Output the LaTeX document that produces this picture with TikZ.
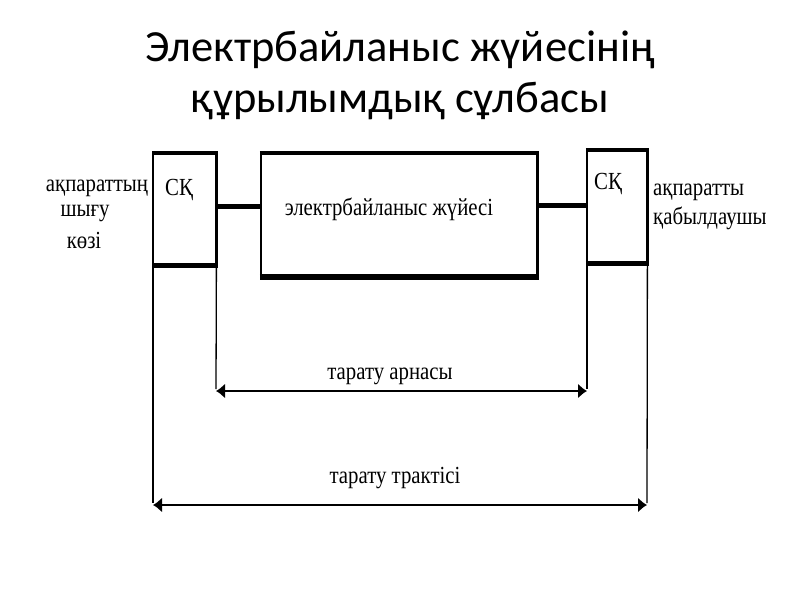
\documentclass[tikz,border=0pt]{standalone}
\usepackage{fontspec}
\usepackage{graphicx}
\setmainfont{Liberation Serif}
\newfontfamily\titlefont{Carlito}
\usetikzlibrary{arrows.meta}
\newcommand{\tallt}[1]{\scalebox{1}[1.18]{#1}}
\begin{document}
\begin{tikzpicture}[x=1pt,y=-1pt,
  box/.style={draw=none,inner sep=0pt,anchor=north west},
  thinl/.style={line width=1.3pt},
  thickl/.style={line width=5pt},
  dimarrow/.style={line width=1.6pt,{Latex[length=9pt,width=15pt]}-{Latex[length=9pt,width=15pt]}},
  lbl/.style={font=\fontsize{20.8}{24}\selectfont,inner sep=0pt},
  ttl/.style={font=\titlefont\fontsize{44.5}{50}\selectfont,inner sep=0pt}]
\useasboundingbox (0,0) rectangle (800,600);
% title
\node[ttl] (t1) at (400,50) {Электрбайланыс жүйесінің};
\node[ttl] (t2) at (400,101) {құрылымдық сұлбасы};
% boxes
\node[box,minimum width=63pt,minimum height=112pt] (b1) at (153,153) {};
\node[box,minimum width=276pt,minimum height=124pt] (b2) at (261,153) {};
\node[box,minimum width=60pt,minimum height=113pt] (b3) at (587,150) {};
% box1 sides
\draw[thinl] (b1.north west) -- (b1.south west);
\draw[line width=3pt] (b1.north east) -- (b1.south east);
\draw[line width=4.5pt] ([xshift=-0.6pt]b1.north west) -- ([xshift=1.5pt]b1.north east);
\draw[line width=4.5pt] ([xshift=-0.6pt]b1.south west) -- ([xshift=1.5pt]b1.south east);
% box2 sides
\draw[line width=2.5pt] (b2.north west) -- (b2.south west);
\draw[line width=3.5pt] (b2.north east) -- (b2.south east);
\draw[line width=4pt] ([xshift=-1.2pt]b2.north west) -- ([xshift=1.7pt]b2.north east);
\draw[line width=6pt] ([xshift=-1.2pt]b2.south west) -- ([xshift=1.7pt]b2.south east);
% box3 sides
\draw[line width=2.5pt] (b3.north west) -- (b3.south west);
\draw[line width=3pt] (b3.north east) -- (b3.south east);
\draw[line width=4.5pt] ([xshift=-1.2pt]b3.north west) -- ([xshift=1.5pt]b3.north east);
\draw[line width=4.5pt] ([xshift=-1.2pt]b3.south west) -- ([xshift=1.5pt]b3.south east);
% box texts
\node[lbl] (s1) at (179,190) {\tallt{СҚ}};
\node[lbl] (s3) at (608,184) {\tallt{СҚ}};
\node[lbl] (m) at (389,209) {\tallt{электрбайланыс жүйесі}};
% connectors
\draw[thickl] (b1.east |- 0,206) -- (b2.west |- 0,206);
\draw[thickl] (b2.east |- 0,205) -- (b3.west |- 0,205);
% side labels
\node[lbl] (l1) at (97,188) {\tallt{ақпараттың}};
\node[lbl] (l2) at (85,214) {\tallt{шығу}};
\node[lbl] (l3) at (84,240) {\tallt{көзі}};
\node[lbl,anchor=west] (r1) at (653,192) {\tallt{ақпаратты}};
\node[lbl,anchor=west] (r2) at (653,218) {\tallt{қабылдаушы}};
% extension lines
\coordinate (c1) at (216,391);
\coordinate (c2) at (587,391);
\coordinate (d1) at (153,505);
\coordinate (d2) at (647,505);
\draw[thinl] (b1.south east) -- ([yshift=2pt]c1);
\draw[thinl] (b3.south west) -- ([yshift=2pt]c2);
\draw[thinl] (b1.south west) -- ([yshift=2pt]d1);
\draw[thinl] (b3.south east) -- ([yshift=2pt]d2);
% dimension arrows
\draw[dimarrow] (c1) -- (c2);
\draw[dimarrow] (d1) -- (d2);
\node[lbl] (a1) at (390,376) {\tallt{тарату арнасы}};
\node[lbl] (a2) at (395,478) {\tallt{тарату трактісі}};
\end{tikzpicture}
\end{document}
